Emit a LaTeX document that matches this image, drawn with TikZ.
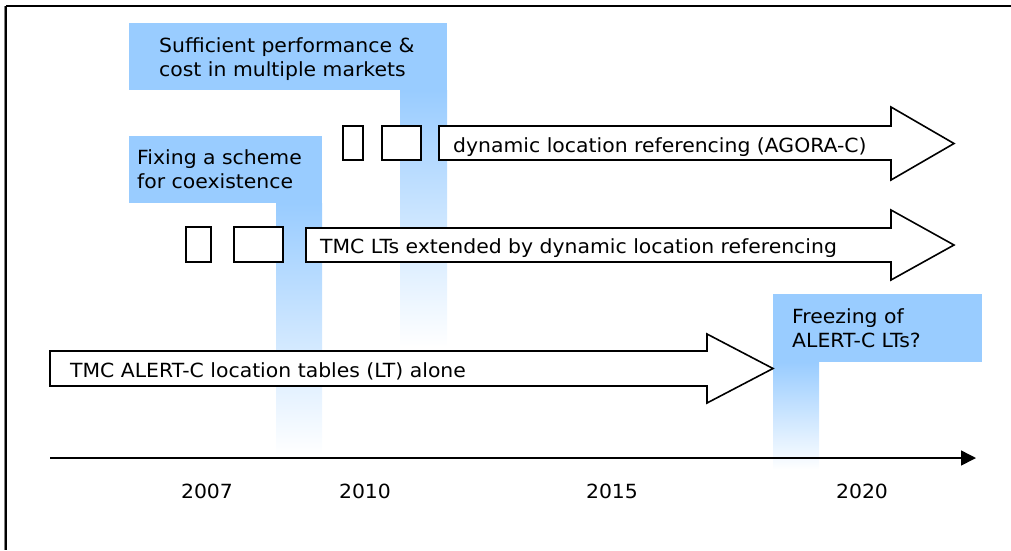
\documentclass[tikz,border=0pt]{standalone}
\usepackage{fontspec}
\setmainfont{DejaVu Sans}[FakeStretch=1.045]
\usetikzlibrary{arrows.meta}
\definecolor{boxblue}{HTML}{99CCFF}
\begin{document}
\begin{tikzpicture}[x=1pt,y=-1pt,
  lbl/.style={font=\fontsize{19.5}{24}\selectfont, inner sep=0pt, anchor=base west, align=left},
  yr/.style={font=\fontsize{19.5}{24}\selectfont, inner sep=0pt, anchor=base},
  bluebox/.style={fill=boxblue, draw=none},
  strip/.style={top color=boxblue, bottom color=white, draw=none},
  outl/.style={draw=black, line width=1.6pt, fill=white, line join=miter},
]
\useasboundingbox (0,0) rectangle (1011,550);
% frame
\draw[gray, line width=1pt] (4.5,6) -- (4.5,550);
\draw[black, line width=1.7pt] (5.8,5.8) -- (1011,5.8);
\draw[black, line width=1.7pt] (5.8,5.8) -- (5.8,550);
% strips
\shade[strip] (400,90) rectangle (447,347);
\shade[strip] (276,203) rectangle (322,455);
\shade[strip] (773,362) rectangle (819,470);
% blue boxes
\fill[bluebox] (129,23) rectangle (447,90);
\fill[bluebox] (129,136) rectangle (322,203);
\fill[bluebox] (773,294) rectangle (982,362);
% small boxes
\draw[outl] (343,126) rectangle (363,160);
\draw[outl] (382,126) rectangle (421,160);
\draw[outl] (186,227) rectangle (211,262);
\draw[outl] (234,227) rectangle (283,262);
% arrows
\draw[outl] (439,126) -- (891,126) -- (891,107) -- (954,143.5) -- (891,180) -- (891,160) -- (439,160) -- cycle;
\draw[outl] (306,228) -- (891,228) -- (891,210) -- (954,245) -- (891,280) -- (891,262) -- (306,262) -- cycle;
\draw[outl] (50,351) -- (707,351) -- (707,334) -- (773,368.5) -- (707,403) -- (707,386) -- (50,386) -- cycle;
% axis
\coordinate (ax0) at (50,458);
\coordinate (ax1) at (976,458);
\draw[line width=1.5pt, -{Triangle[length=15pt,width=15pt]}] (ax0) -- (ax1);
% texts (multi-line nodes: base = last line)
\node[lbl] (tsuff) at (159,76) {Sufficient performance \&\\cost in multiple markets};
\node[lbl] (tfix) at (137,188.5) {Fixing a scheme\\for coexistence};
\node[lbl] (tfreeze) at (792,347) {Freezing of\\ALERT-C LTs?};
\node[lbl] (tagora) at (453,152) {dynamic location referencing (AGORA-C)};
\node[lbl] (tlts) at (320,253) {TMC LTs extended by dynamic location referencing};
\node[lbl] (talert) at (70,377) {TMC ALERT-C location tables (LT) alone};
\node[yr] (y2007) at (207,498) {2007};
\node[yr] (y2010) at (365,498) {2010};
\node[yr] (y2015) at (612,498) {2015};
\node[yr] (y2020) at (862,498) {2020};
\end{tikzpicture}
\end{document}
